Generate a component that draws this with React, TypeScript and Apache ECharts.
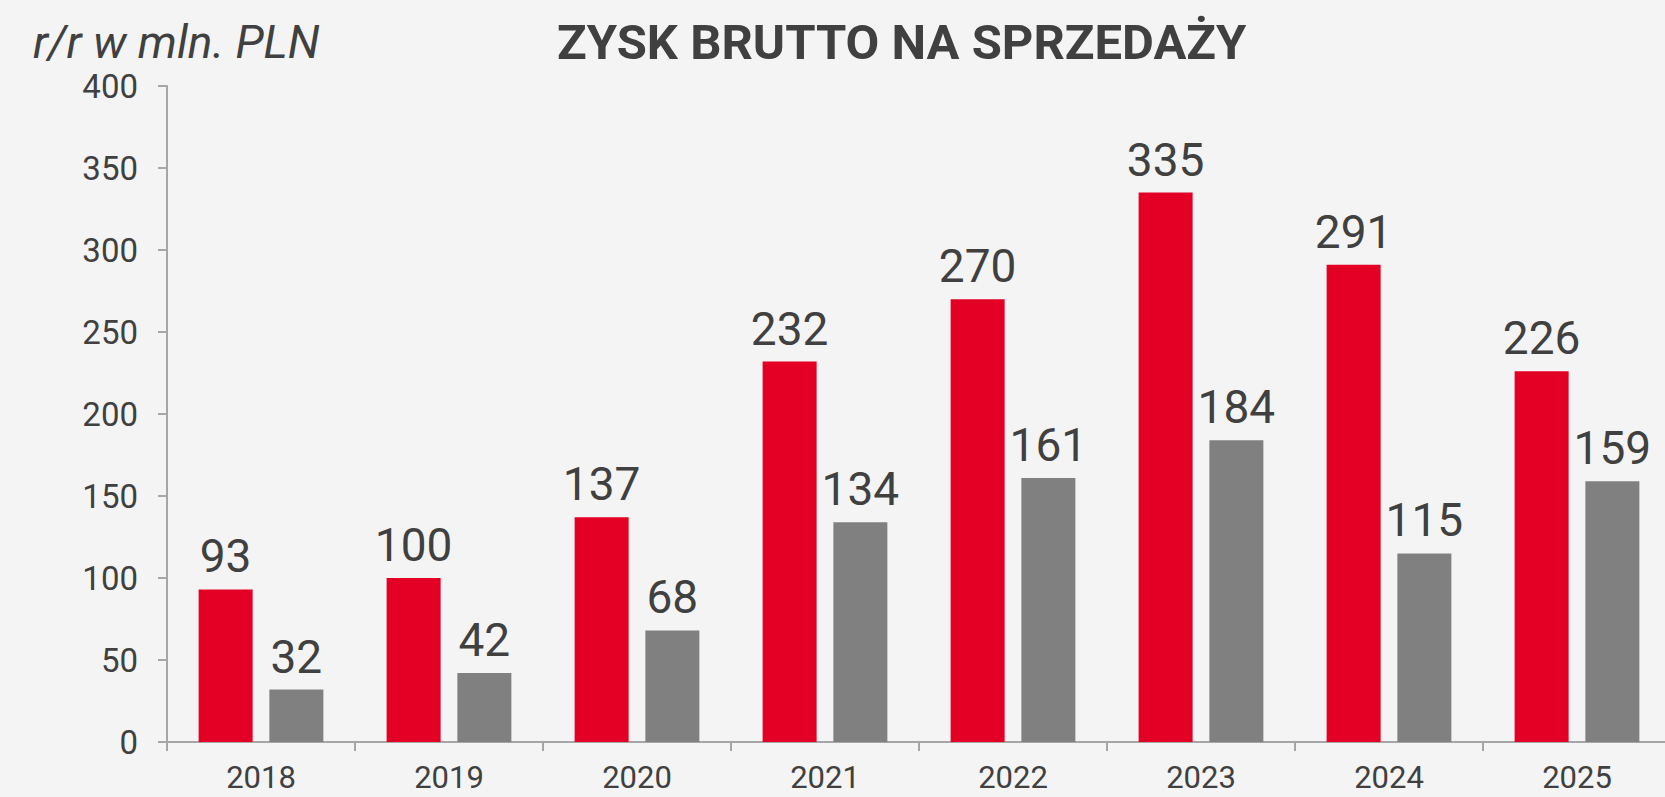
import React, { useEffect, useRef } from "react";
import * as echarts from "echarts";

const categories = ["2018", "2019", "2020", "2021", "2022", "2023", "2024", "2025"];
const redValues = [93, 100, 137, 232, 270, 335, 291, 226];
const grayValues = [32, 42, 68, 134, 161, 184, 115, 159];
const titleText = "ZYSK BRUTTO NA SPRZEDAŻY";
const unitText = "r/r w mln. PLN";

export default function App() {
  const ref = useRef<HTMLDivElement>(null);
  useEffect(() => {
    document.body.style.margin = "0";
    document.body.style.background = "#F4F4F4";
    const chart = echarts.init(ref.current!, undefined, { renderer: "svg" });
    const textColor = "#404040";
    const font = "Roboto, 'Noto Sans', sans-serif";
    const labelStyle = {
      show: true,
      position: "top" as const,
      distance: 10,
      fontSize: 46,
      color: textColor,
      fontFamily: font,
    };
    chart.setOption({
      animation: false,
      backgroundColor: "#F4F4F4",
      title: [
        {
          text: titleText,
          left: 552,
          top: 13,
          textStyle: { fontSize: 49, fontWeight: "bold", color: textColor, fontFamily: font },
        },
        {
          text: unitText,
          left: 28,
          top: 14,
          textStyle: { fontSize: 46, fontStyle: "italic", fontWeight: "normal", color: textColor, fontFamily: font },
        },
      ],
      grid: { left: 167, right: 0, top: 86, bottom: 55, containLabel: false },
      xAxis: {
        type: "category",
        data: categories,
        axisLine: { show: true, lineStyle: { color: "#A6A6A6", width: 2 } },
        axisTick: { show: true, length: 9, lineStyle: { color: "#A6A6A6", width: 2 } },
        axisLabel: { fontSize: 31, lineHeight: 28, color: textColor, fontFamily: font, margin: 21 },
      },
      yAxis: {
        type: "value",
        min: 0,
        max: 400,
        interval: 50,
        splitLine: { show: false },
        axisLine: { show: true, lineStyle: { color: "#A6A6A6", width: 2 } },
        axisTick: { show: true, length: 9, lineStyle: { color: "#A6A6A6", width: 2 } },
        axisLabel: { fontSize: 33, color: textColor, fontFamily: font, margin: 29 },
      },
      series: [
        {
          type: "bar",
          data: redValues,
          barWidth: 54,
          barGap: "31%",
          itemStyle: { color: "#E30024" },
          label: labelStyle,
        },
        {
          type: "bar",
          data: grayValues,
          barWidth: 54,
          itemStyle: { color: "#808080" },
          label: labelStyle,
        },
      ],
    });
    return () => chart.dispose();
  }, []);
  return (
    <div style={{ width: 1665, height: 797, overflow: "hidden", background: "#F4F4F4" }}>
      <div ref={ref} style={{ width: 1671, height: 797 }} />
    </div>
  );
}
